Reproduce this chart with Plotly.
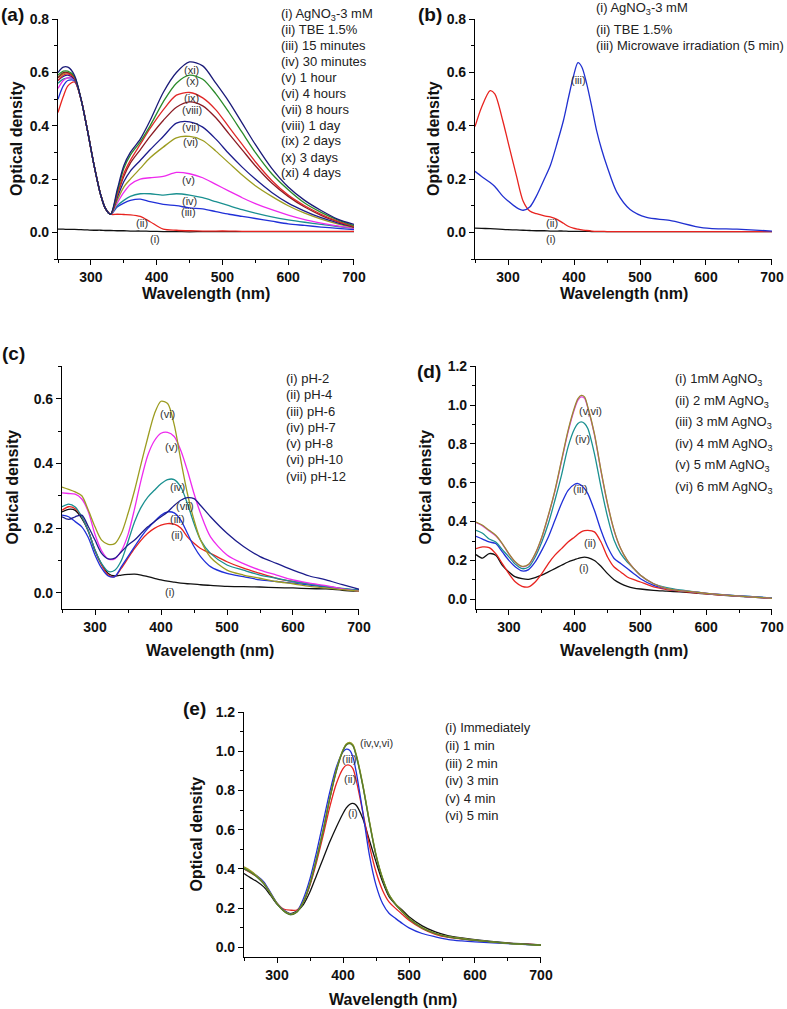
import plotly.graph_objects as go

W, H = 787, 1009
FONT = "Liberation Sans, Arial, sans-serif"

def PX(x):
    return x / W

def PY(y):
    return 1 - y / H

# ---------------- Panel (a) ----------------
WL_A = [250, 258, 265, 275, 285, 295, 305, 315, 322, 330, 340, 350, 360, 375, 390, 410,
        430, 450, 470, 490, 510, 530, 550, 575, 600, 625, 650, 675, 700]
A_I = [0.012, 0.012, 0.011, 0.011, 0.010, 0.009, 0.008, 0.008, 0.007, 0.007, 0.006, 0.006, 0.005,
       0.005, 0.004, 0.003, 0.003, 0.002, 0.003, 0.003, 0.003, 0.003, 0.003, 0.003, 0.003, 0.003,
       0.003, 0.003, 0.003]
A_II = [0.45, 0.51, 0.55, 0.565, 0.50, 0.38, 0.25, 0.14, 0.09, 0.068, 0.068, 0.067, 0.066, 0.060,
        0.040, 0.012, 0.008, 0.006, 0.005, 0.005, 0.005, 0.004, 0.004, 0.004, 0.004, 0.004, 0.004,
        0.004, 0.004]
A_III = [0.50, 0.55, 0.57, 0.57, 0.50, 0.38, 0.25, 0.14, 0.09, 0.068, 0.095, 0.11, 0.12, 0.125,
         0.115, 0.105, 0.10, 0.092, 0.088, 0.078, 0.068, 0.06, 0.052, 0.042, 0.032, 0.026, 0.02,
         0.015, 0.01]
A_IV = [0.56, 0.575, 0.58, 0.575, 0.50, 0.38, 0.25, 0.14, 0.09, 0.068, 0.10, 0.12, 0.135, 0.145,
        0.145, 0.14, 0.145, 0.14, 0.13, 0.115, 0.10, 0.085, 0.072, 0.058, 0.047, 0.038, 0.03,
        0.022, 0.015]
A_V = [0.54, 0.57, 0.58, 0.575, 0.50, 0.38, 0.25, 0.14, 0.09, 0.068, 0.11, 0.15, 0.18, 0.20, 0.205,
       0.21, 0.225, 0.22, 0.205, 0.18, 0.155, 0.13, 0.108, 0.085, 0.065, 0.048, 0.035, 0.024, 0.015]
A_VI = [0.58, 0.595, 0.60, 0.58, 0.50, 0.38, 0.25, 0.14, 0.09, 0.068, 0.12, 0.17, 0.20, 0.24, 0.28,
        0.32, 0.355, 0.36, 0.345, 0.305, 0.26, 0.215, 0.175, 0.135, 0.10, 0.072, 0.05, 0.032, 0.018]
A_VII = [0.57, 0.585, 0.59, 0.575, 0.50, 0.38, 0.25, 0.14, 0.09, 0.068, 0.13, 0.19, 0.23, 0.27,
         0.31, 0.36, 0.41, 0.415, 0.395, 0.35, 0.295, 0.245, 0.20, 0.15, 0.11, 0.08, 0.055, 0.036, 0.02]
A_VIII = [0.58, 0.60, 0.60, 0.58, 0.50, 0.38, 0.25, 0.14, 0.09, 0.068, 0.14, 0.21, 0.26, 0.31, 0.36,
          0.42, 0.47, 0.49, 0.475, 0.43, 0.37, 0.31, 0.25, 0.185, 0.135, 0.095, 0.064, 0.04, 0.02]
A_IX = [0.57, 0.59, 0.595, 0.58, 0.50, 0.38, 0.25, 0.14, 0.09, 0.068, 0.14, 0.22, 0.27, 0.33, 0.39,
        0.46, 0.515, 0.525, 0.505, 0.46, 0.395, 0.33, 0.265, 0.195, 0.14, 0.10, 0.068, 0.042, 0.022]
A_X = [0.59, 0.605, 0.605, 0.585, 0.50, 0.38, 0.25, 0.14, 0.09, 0.068, 0.15, 0.24, 0.29, 0.34,
       0.40, 0.49, 0.56, 0.59, 0.575, 0.52, 0.45, 0.375, 0.30, 0.22, 0.16, 0.11, 0.075, 0.047, 0.025]
A_XI = [0.60, 0.62, 0.62, 0.59, 0.50, 0.38, 0.25, 0.14, 0.09, 0.068, 0.16, 0.25, 0.30, 0.35, 0.42,
        0.525, 0.60, 0.64, 0.625, 0.56, 0.49, 0.41, 0.33, 0.24, 0.17, 0.12, 0.082, 0.05, 0.03]
A_SERIES = [A_I, A_II, A_III, A_IV, A_V, A_VI, A_VII, A_VIII, A_IX, A_X, A_XI]
A_COLORS = ["#111111", "#e8231f", "#2030d8", "#1a9090", "#ee2aee", "#9c9c20", "#1c1c8c",
            "#8b1c24", "#e02828", "#2a8a2a", "#1a1a78"]
A_LEGEND = ["(i) AgNO<sub>3</sub>-3 mM", "(ii) TBE 1.5%", "(iii) 15 minutes", "(iv) 30 minutes",
            "(v) 1 hour", "(vi) 4 hours", "(vii) 8 hours", "(viii) 1 day", "(ix) 2 days",
            "(x) 3 days", "(xi) 4 days"]
A_LABELS = [("(xi)", 453, 0.608), ("(x)", 455, 0.568), ("(ix)", 453, 0.503), ("(viii)", 454, 0.460),
            ("(vii)", 452, 0.394), ("(vi)", 451, 0.338), ("(v)", 448, 0.198), ("(iv)", 450, 0.119),
            ("(iii)", 449, 0.075), ("(ii)", 377, 0.035), ("(i)", 398, -0.025)]

# ---------------- Panel (b) ----------------
WL_B = [250, 260, 273, 280, 292, 300, 313, 323, 333, 343, 355, 364, 375, 384, 392, 399, 406, 412,
        419, 427, 434, 442, 450, 465, 485, 510, 545, 596, 647, 700]
B_I = [0.016, 0.015, 0.014, 0.013, 0.011, 0.010, 0.009, 0.008, 0.007, 0.006, 0.006, 0.005, 0.005,
       0.005, 0.004, 0.004, 0.004, 0.004, 0.004, 0.003, 0.003, 0.003, 0.003, 0.003, 0.003, 0.003,
       0.003, 0.003, 0.003, 0.003]
B_II = [0.397, 0.47, 0.532, 0.52, 0.42, 0.34, 0.21, 0.117, 0.08, 0.07, 0.062, 0.058, 0.048, 0.034,
        0.022, 0.016, 0.012, 0.009, 0.007, 0.005, 0.004, 0.004, 0.003, 0.003, 0.003, 0.003, 0.003,
        0.003, 0.003, 0.003]
B_III = [0.229, 0.21, 0.187, 0.172, 0.136, 0.118, 0.093, 0.083, 0.095, 0.136, 0.20, 0.25, 0.34,
         0.42, 0.51, 0.584, 0.637, 0.62, 0.56, 0.47, 0.385, 0.31, 0.248, 0.15, 0.086, 0.056, 0.045,
         0.017, 0.012, 0.005]
B_SERIES = [B_I, B_II, B_III]
B_COLORS = ["#111111", "#e8231f", "#2030d0"]
B_LEGEND = ["(i) AgNO<sub>3</sub>-3 mM", "(ii) TBE 1.5%", "(iii) Microwave irradiation (5 min)"]
B_LABELS = [("(iii)", 406.5, 0.5725), ("(ii)", 367, 0.035), ("(i)", 364.6, -0.025)]

# ---------------- Panel (c) ----------------
WL_C = [250, 260, 270, 280, 290, 300, 310, 320, 330, 340, 350, 360, 370, 380, 390, 400, 410, 420,
        430, 440, 450, 460, 475, 500, 525, 550, 575, 600, 625, 650, 675, 700]
C_I = [0.25, 0.258, 0.255, 0.23, 0.19, 0.13, 0.088, 0.06, 0.052, 0.055, 0.057, 0.058, 0.055, 0.05,
       0.045, 0.04, 0.036, 0.033, 0.03, 0.028, 0.027, 0.025, 0.023, 0.02, 0.019, 0.018, 0.016,
       0.015, 0.013, 0.012, 0.008, 0.005]
C_II = [0.255, 0.266, 0.26, 0.235, 0.19, 0.132, 0.086, 0.055, 0.05, 0.076, 0.107, 0.137, 0.163,
        0.184, 0.199, 0.209, 0.214, 0.212, 0.20, 0.173, 0.153, 0.137, 0.122, 0.096, 0.076, 0.06,
        0.045, 0.035, 0.027, 0.02, 0.012, 0.006]
C_III = [0.24, 0.235, 0.22, 0.204, 0.17, 0.117, 0.076, 0.052, 0.05, 0.081, 0.112, 0.143, 0.173,
         0.199, 0.22, 0.24, 0.25, 0.247, 0.225, 0.184, 0.143, 0.112, 0.081, 0.06, 0.05, 0.04, 0.035,
         0.03, 0.024, 0.018, 0.012, 0.008]
C_IV = [0.266, 0.274, 0.265, 0.235, 0.19, 0.132, 0.09, 0.066, 0.07, 0.10, 0.158, 0.22, 0.265,
        0.296, 0.317, 0.337, 0.35, 0.35, 0.327, 0.276, 0.214, 0.163, 0.122, 0.086, 0.07, 0.055,
        0.045, 0.035, 0.027, 0.02, 0.014, 0.008]
C_V = [0.309, 0.307, 0.305, 0.29, 0.25, 0.18, 0.13, 0.105, 0.105, 0.13, 0.18, 0.26, 0.35, 0.425,
       0.47, 0.493, 0.496, 0.483, 0.44, 0.378, 0.307, 0.245, 0.173, 0.117, 0.09, 0.07, 0.055, 0.04,
       0.03, 0.022, 0.012, 0.005]
C_VI = [0.327, 0.32, 0.312, 0.30, 0.255, 0.204, 0.163, 0.15, 0.152, 0.184, 0.245, 0.317, 0.40,
        0.48, 0.553, 0.592, 0.585, 0.52, 0.41, 0.307, 0.225, 0.163, 0.11, 0.07, 0.055, 0.045,
        0.035, 0.028, 0.02, 0.015, 0.01, 0.005]
C_VII = [0.235, 0.227, 0.235, 0.24, 0.204, 0.163, 0.122, 0.105, 0.107, 0.127, 0.148, 0.163, 0.184,
         0.204, 0.22, 0.235, 0.25, 0.27, 0.286, 0.294, 0.291, 0.27, 0.235, 0.184, 0.143, 0.112,
         0.091, 0.07, 0.052, 0.04, 0.025, 0.011]
C_SERIES = [C_I, C_II, C_III, C_IV, C_V, C_VI, C_VII]
C_COLORS = ["#111111", "#e8231f", "#2030d8", "#1a9090", "#ee2aee", "#9c9c20", "#1c1c8c"]
C_LEGEND = ["(i) pH-2", "(ii) pH-4", "(iii) pH-6", "(iv) pH-7", "(v) pH-8", "(vi) pH-10",
            "(vii) pH-12"]
C_LABELS = [("(vi)", 410.6, 0.553), ("(v)", 415.6, 0.452), ("(iv)", 424.7, 0.327),
            ("(vii)", 435.9, 0.269), ("(iii)", 424.7, 0.227), ("(ii)", 424.7, 0.178),
            ("(i)", 413, 0.004)]

# ---------------- Panel (d) ----------------
WL_D = [250, 260, 270, 280, 290, 300, 310, 320, 330, 340, 350, 360, 370, 380, 390, 400, 405, 410,
        415, 420, 430, 440, 450, 460, 470, 480, 490, 500, 520, 540, 560, 580, 600, 650, 700]
D_I = [0.23, 0.212, 0.235, 0.227, 0.175, 0.141, 0.115, 0.106, 0.103, 0.112, 0.124, 0.141, 0.158,
       0.175, 0.192, 0.204, 0.21, 0.215, 0.217, 0.215, 0.20, 0.17, 0.132, 0.101, 0.081, 0.067,
       0.058, 0.053, 0.046, 0.042, 0.038, 0.033, 0.028, 0.015, 0.005]
D_II = [0.261, 0.27, 0.266, 0.235, 0.184, 0.132, 0.089, 0.067, 0.064, 0.089, 0.132, 0.184, 0.227,
        0.261, 0.295, 0.321, 0.335, 0.347, 0.353, 0.355, 0.347, 0.295, 0.218, 0.166, 0.141, 0.115,
        0.101, 0.089, 0.064, 0.05, 0.042, 0.035, 0.028, 0.016, 0.006]
D_III = [0.324, 0.31, 0.295, 0.287, 0.244, 0.20, 0.166, 0.146, 0.153, 0.192, 0.252, 0.321, 0.407,
         0.493, 0.561, 0.592, 0.596, 0.587, 0.57, 0.544, 0.458, 0.355, 0.27, 0.21, 0.184, 0.158,
         0.132, 0.106, 0.072, 0.055, 0.045, 0.038, 0.03, 0.017, 0.007]
D_IV = [0.355, 0.34, 0.31, 0.295, 0.256, 0.218, 0.18, 0.158, 0.166, 0.218, 0.295, 0.39, 0.51,
        0.639, 0.785, 0.879, 0.905, 0.913, 0.905, 0.879, 0.75, 0.579, 0.424, 0.304, 0.235, 0.192,
        0.158, 0.124, 0.08, 0.06, 0.048, 0.04, 0.03, 0.017, 0.007]
D_V = [0.395, 0.378, 0.352, 0.327, 0.285, 0.233, 0.19, 0.168, 0.178, 0.232, 0.317, 0.43, 0.557,
       0.71, 0.862, 0.982, 1.025, 1.042, 1.035, 0.985, 0.848, 0.66, 0.49, 0.353, 0.26, 0.20, 0.158,
       0.124, 0.08, 0.055, 0.045, 0.038, 0.03, 0.016, 0.005]
D_VI = [0.398, 0.381, 0.355, 0.33, 0.287, 0.235, 0.192, 0.17, 0.18, 0.235, 0.32, 0.433, 0.561,
        0.716, 0.87, 0.99, 1.033, 1.05, 1.042, 0.99, 0.853, 0.664, 0.493, 0.355, 0.261, 0.20, 0.158,
        0.124, 0.08, 0.055, 0.045, 0.038, 0.03, 0.016, 0.005]
D_SERIES = [D_I, D_II, D_III, D_IV, D_V, D_VI]
D_COLORS = ["#111111", "#e8231f", "#2030d8", "#1a9090", "#e040e0", "#9a8a30"]
D_LEGEND = ["(i) 1mM AgNO<sub>3</sub>", "(ii) 2 mM AgNO<sub>3</sub>", "(iii) 3 mM AgNO<sub>3</sub>",
            "(iv) 4 mM AgNO<sub>3</sub>", "(v) 5 mM AgNO<sub>3</sub>", "(vi) 6 mM AgNO<sub>3</sub>"]
D_LABELS = [("(v,vi)", 423.7, 0.97), ("(iv)", 412.6, 0.824), ("(iii)", 408.5, 0.57),
            ("(ii)", 423.7, 0.29), ("(i)", 413.6, 0.161)]

# ---------------- Panel (e) ----------------
WL_E = [250, 260, 270, 280, 290, 300, 310, 320, 330, 340, 350, 360, 370, 380, 390, 400, 405, 410,
        415, 420, 430, 440, 450, 460, 470, 480, 490, 500, 520, 540, 560, 580, 600, 650, 700]
E_I = [0.376, 0.354, 0.334, 0.308, 0.266, 0.22, 0.189, 0.172, 0.184, 0.218, 0.283, 0.368, 0.453,
       0.538, 0.614, 0.683, 0.711, 0.729, 0.734, 0.725, 0.657, 0.546, 0.436, 0.334, 0.257, 0.218,
       0.189, 0.155, 0.109, 0.078, 0.058, 0.047, 0.038, 0.022, 0.012]
E_II = [0.40, 0.38, 0.36, 0.33, 0.275, 0.225, 0.195, 0.189, 0.19, 0.23, 0.317, 0.436, 0.572,
        0.717, 0.836, 0.912, 0.929, 0.929, 0.912, 0.853, 0.69, 0.52, 0.385, 0.29, 0.23, 0.197,
        0.167, 0.138, 0.095, 0.066, 0.05, 0.042, 0.035, 0.02, 0.012]
E_III = [0.40, 0.385, 0.364, 0.334, 0.28, 0.225, 0.19, 0.17, 0.182, 0.248, 0.35, 0.487, 0.64,
         0.793, 0.92, 0.997, 1.011, 1.006, 0.972, 0.895, 0.69, 0.47, 0.317, 0.223, 0.172, 0.146,
         0.121, 0.099, 0.07, 0.053, 0.039, 0.032, 0.027, 0.018, 0.01]
E_IV = [0.405, 0.385, 0.359, 0.325, 0.274, 0.223, 0.186, 0.167, 0.18, 0.23, 0.325, 0.453, 0.597,
        0.76, 0.904, 1.006, 1.035, 1.043, 1.031, 0.98, 0.827, 0.64, 0.47, 0.35, 0.266, 0.218, 0.18,
        0.146, 0.099, 0.07, 0.053, 0.044, 0.036, 0.02, 0.01]
E_V = [0.41, 0.39, 0.362, 0.327, 0.276, 0.224, 0.187, 0.168, 0.181, 0.232, 0.327, 0.455, 0.60,
       0.762, 0.906, 1.008, 1.038, 1.046, 1.034, 0.985, 0.832, 0.645, 0.474, 0.353, 0.268, 0.22,
       0.182, 0.148, 0.10, 0.071, 0.054, 0.045, 0.036, 0.02, 0.01]
E_VI = [0.40, 0.382, 0.357, 0.323, 0.272, 0.221, 0.185, 0.166, 0.179, 0.228, 0.322, 0.45, 0.594,
        0.757, 0.90, 1.003, 1.032, 1.04, 1.028, 0.977, 0.824, 0.637, 0.468, 0.348, 0.264, 0.216,
        0.179, 0.145, 0.098, 0.069, 0.052, 0.043, 0.035, 0.02, 0.01]
E_SERIES = [E_I, E_II, E_III, E_IV, E_V, E_VI]
E_COLORS = ["#111111", "#e8231f", "#2030d8", "#2a8a5a", "#9a9a20", "#5a7a2a"]
E_LEGEND = ["(i) Immediately", "(ii) 1 min", "(iii) 2 min", "(iv) 3 min", "(v) 4 min",
            "(vi) 5 min"]
E_LABELS = [("(iv,v,vi)", 450, 1.043), ("(iii)", 410.6, 0.963), ("(ii)", 410.6, 0.861),
            ("(i)", 415.6, 0.683)]

# ---------------- layout geometry (pixels) ----------------
PANELS = [
    dict(key="a", wl=WL_A, series=A_SERIES, colors=A_COLORS, legend=A_LEGEND, labels=A_LABELS,
         x0=58, x1=354, top=19, bot=259, yr=[-0.1, 0.8], yticks=[0, 0.2, 0.4, 0.6, 0.8],
         leg_x=279, leg_y=[15, 30, 45, 61, 77, 93, 109, 125, 141, 157, 173],
         tag=("(a)", 12, 15), ytitle_x=16, xtitle_y=293),
    dict(key="b", wl=WL_B, series=B_SERIES, colors=B_COLORS, legend=B_LEGEND, labels=B_LABELS,
         x0=475, x1=772, top=19, bot=259, yr=[-0.1, 0.8], yticks=[0, 0.2, 0.4, 0.6, 0.8],
         leg_x=594, leg_y=[9, 29, 45],
         tag=("(b)", 430, 15), ytitle_x=433, xtitle_y=293),
    dict(key="c", wl=WL_C, series=C_SERIES, colors=C_COLORS, legend=C_LEGEND, labels=C_LABELS,
         x0=62, x1=359, top=366, bot=609, yr=[-0.05, 0.7], yticks=[0, 0.2, 0.4, 0.6],
         leg_x=284, leg_y=[378, 394, 411, 427, 443, 459, 476],
         tag=("(c)", 13, 353), ytitle_x=12, xtitle_y=650),
    dict(key="d", wl=WL_D, series=D_SERIES, colors=D_COLORS, legend=D_LEGEND, labels=D_LABELS,
         x0=476, x1=772, top=366, bot=609, yr=[-0.05, 1.2], yticks=[0, 0.2, 0.4, 0.6, 0.8, 1.0, 1.2],
         leg_x=673, leg_y=[379, 401, 422, 444, 465, 487],
         tag=("(d)", 429, 372), ytitle_x=425, xtitle_y=650),
    dict(key="e", wl=WL_E, series=E_SERIES, colors=E_COLORS, legend=E_LEGEND, labels=E_LABELS,
         x0=244, x1=541, top=712, bot=957, yr=[-0.05, 1.2], yticks=[0, 0.2, 0.4, 0.6, 0.8, 1.0, 1.2],
         leg_x=443, leg_y=[727, 745, 763, 780, 798, 815],
         tag=("(e)", 194, 708), ytitle_x=196, xtitle_y=999),
]

fig = go.Figure()
annotations = []
layout_axes = {}

for i, p in enumerate(PANELS):
    n = i + 1
    xa = "x" if n == 1 else f"x{n}"
    ya = "y" if n == 1 else f"y{n}"
    xkey = "xaxis" if n == 1 else f"xaxis{n}"
    ykey = "yaxis" if n == 1 else f"yaxis{n}"
    for s, c in zip(p["series"], p["colors"]):
        fig.add_trace(go.Scatter(x=p["wl"], y=s, mode="lines", xaxis=xa, yaxis=ya,
                                 line=dict(color=c, width=1.3, shape="spline", smoothing=0.8),
                                 showlegend=False, hoverinfo="skip"))
    common = dict(showline=True, linecolor="black", linewidth=1.2, ticks="outside", ticklen=5,
                  tickwidth=1, tickcolor="black", showgrid=False, zeroline=False,
                  automargin=False,
                  tickfont=dict(family=FONT, size=14, color="#111", weight="bold"))
    layout_axes[xkey] = dict(common, domain=[PX(p["x0"]), PX(p["x1"])], range=[250, 700.01],
                             anchor=ya, tickmode="array", tickvals=[300, 400, 500, 600, 700],
                             minor=dict(ticks="outside", ticklen=3, tickcolor="black",
                                        tickmode="array", tickvals=[250, 350, 450, 550, 650]))
    minor_y = [round(v / 10, 1) for v in range(int(p["yr"][0] * 10), int(round(p["yr"][1] * 10)) + 1)]
    layout_axes[ykey] = dict(common, domain=[PY(p["bot"]), PY(p["top"])],
                             range=[p["yr"][0], p["yr"][1] + 0.001], anchor=xa,
                             tickmode="array", tickvals=p["yticks"],
                             ticktext=[f"{v:.1f}" for v in p["yticks"]],
                             minor=dict(ticks="outside", ticklen=3, tickcolor="black",
                                        tickmode="array", tickvals=minor_y))
    # legend text
    for txt, yy in zip(p["legend"], p["leg_y"]):
        annotations.append(dict(text=txt, x=PX(p["leg_x"]), y=PY(yy), xref="paper", yref="paper",
                                xanchor="left", yanchor="middle", showarrow=False,
                                font=dict(family=FONT, size=13, color="#222")))
    # curve labels
    for txt, lx, ly in p["labels"]:
        annotations.append(dict(text=txt, x=lx, y=ly, xref=xa, yref=ya, xanchor="center",
                                yanchor="middle", showarrow=False,
                                font=dict(family=FONT, size=11, color="#333")))
    # panel tag
    t, tx, ty = p["tag"]
    annotations.append(dict(text=t, x=PX(tx), y=PY(ty), xref="paper", yref="paper",
                            xanchor="center", yanchor="middle", showarrow=False,
                            font=dict(family=FONT, size=19, color="#111", weight="bold")))
    # axis titles
    annotations.append(dict(text="Optical density", x=PX(p["ytitle_x"]),
                            y=PY((p["top"] + p["bot"]) / 2), xref="paper", yref="paper",
                            textangle=-90, xanchor="center", yanchor="middle", showarrow=False,
                            font=dict(family=FONT, size=16, color="#111", weight="bold")))
    annotations.append(dict(text="Wavelength (nm)", x=PX((p["x0"] + p["x1"]) / 2),
                            y=PY(p["xtitle_y"]), xref="paper", yref="paper",
                            xanchor="center", yanchor="middle", showarrow=False,
                            font=dict(family=FONT, size=16, color="#111", weight="bold")))

fig.update_layout(width=W, height=H, margin=dict(l=0, r=0, t=0, b=0, autoexpand=False),
                  paper_bgcolor="white", plot_bgcolor="white",
                  annotations=annotations, **layout_axes)

fig.write_html("out.html", config={"displayModeBar": False},
               post_script="document.body.style.margin='0';document.body.style.overflow='hidden';")
